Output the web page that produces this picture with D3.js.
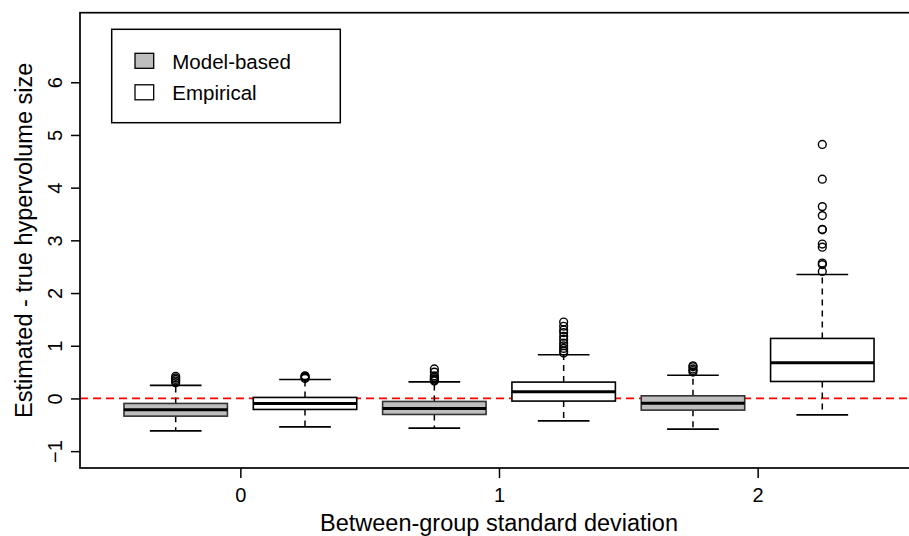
<!DOCTYPE html>
<html>
<head>
<meta charset="utf-8">
<script src="https://cdn.jsdelivr.net/npm/d3@7"></script>
<style>
  body { margin: 0; background: #fff; }
  svg { font-family: "Liberation Sans", Arial, sans-serif; }
</style>
</head>
<body>
<svg id="chart" width="909" height="536"></svg>
<script>
// groups on the x axis and the two methods
var groups = ["0", "1", "2"];
var methods = ["Model-based", "Empirical"];
var fills = ["#bebebe", "#ffffff"];

// box stats, order: 0 model, 0 emp, 1 model, 1 emp, 2 model, 2 emp
var whiskLo = [-0.615, -0.54, -0.564, -0.425, -0.583, -0.311];
var q1      = [-0.336, -0.209, -0.304, -0.05, -0.222, 0.322];
var median  = [-0.216, -0.095, -0.19, 0.125, -0.089, 0.676];
var q3      = [-0.095, 0.019, -0.057, 0.31, 0.05, 1.139];
var whiskHi = [0.247, 0.36, 0.315, 0.83, 0.44, 2.353];
var outliers = [
  [0.30, 0.33, 0.36, 0.39, 0.42],
  [0.38, 0.40, 0.42, 0.43],
  [0.33, 0.35, 0.37, 0.40, 0.43, 0.50, 0.56],
  [0.86, 0.90, 0.95, 1.00, 1.05, 1.12, 1.18, 1.25, 1.30, 1.37, 1.45],
  [0.50, 0.53, 0.56, 0.60, 0.62],
  [2.41, 2.54, 2.57, 2.87, 2.93, 3.20, 3.21, 3.47, 3.64, 4.16, 4.82]
];
var yTicks = [-1, 0, 1, 2, 3, 4, 5, 6];

var svg = d3.select("#chart");
var pLeft = 80, pRight = 918, pTop = 12.7, pBottom = 468;

var x = d3.scaleLinear().domain([0.26, 6.74]).range([pLeft, pRight]);
var y = d3.scaleLinear().domain([-1.32, 7.32]).range([pBottom, pTop]);
var boxW = x(0.8) - x(0);

var boxes = median.map(function(m, i) {
  return { pos: i + 1, fill: fills[i % 2], lo: whiskLo[i], q1: q1[i], med: m,
           q3: q3[i], hi: whiskHi[i], out: outliers[i] };
});

// red reference line at zero
svg.append("line")
  .attr("x1", pLeft).attr("x2", pRight)
  .attr("y1", y(0)).attr("y2", y(0))
  .attr("stroke", "#ff0000").attr("stroke-width", 1.8)
  .attr("stroke-dasharray", "8,5");

var g = svg.selectAll(".box").data(boxes).enter().append("g").attr("class", "box");

// whiskers
g.append("line")
  .attr("x1", d => x(d.pos)).attr("x2", d => x(d.pos))
  .attr("y1", d => y(d.q3)).attr("y2", d => y(d.hi))
  .attr("stroke", "#000").attr("stroke-width", 1.5).attr("stroke-dasharray", "6,5");
g.append("line")
  .attr("x1", d => x(d.pos)).attr("x2", d => x(d.pos))
  .attr("y1", d => y(d.q1)).attr("y2", d => y(d.lo))
  .attr("stroke", "#000").attr("stroke-width", 1.5).attr("stroke-dasharray", "6,5");
// staples
["hi", "lo"].forEach(function(k) {
  g.append("line")
    .attr("x1", d => x(d.pos) - boxW / 4).attr("x2", d => x(d.pos) + boxW / 4)
    .attr("y1", d => y(d[k])).attr("y2", d => y(d[k]))
    .attr("stroke", "#000").attr("stroke-width", 1.6);
});

// box
g.append("rect")
  .attr("x", d => x(d.pos) - boxW / 2)
  .attr("width", boxW)
  .attr("y", d => y(d.q3))
  .attr("height", d => y(d.q1) - y(d.q3))
  .attr("fill", d => d.fill)
  .attr("stroke", d => d.fill === "#ffffff" ? "#000" : "#333")
  .attr("stroke-width", 1.6);

// median
g.append("line")
  .attr("x1", d => x(d.pos) - boxW / 2).attr("x2", d => x(d.pos) + boxW / 2)
  .attr("y1", d => y(d.med)).attr("y2", d => y(d.med))
  .attr("stroke", "#000").attr("stroke-width", 3);

// outliers
g.selectAll("circle").data(d => d.out.map(v => ({ pos: d.pos, v: v })))
  .enter().append("circle")
  .attr("cx", d => x(d.pos)).attr("cy", d => y(d.v))
  .attr("r", 3.9).attr("fill", "none")
  .attr("stroke", "#000").attr("stroke-width", 1.4);

// frame
svg.append("rect")
  .attr("x", pLeft).attr("y", pTop)
  .attr("width", pRight - pLeft).attr("height", pBottom - pTop)
  .attr("fill", "none").attr("stroke", "#000").attr("stroke-width", 1.7);

// y axis
var ya = svg.append("g").attr("transform", `translate(${pLeft},0)`)
  .call(d3.axisLeft(y).tickValues(yTicks).tickSize(9).tickFormat(d3.format("d")));
ya.select(".domain").remove();
ya.selectAll(".tick line").attr("stroke-width", 1.5);
ya.selectAll(".tick text")
  .attr("x", null).attr("dy", null)
  .attr("transform", "translate(-18.5,0) rotate(-90)")
  .attr("text-anchor", "middle")
  .attr("font-size", 20).attr("font-family", "Liberation Sans").attr("fill", "#000");

// x axis
var xa = svg.append("g").attr("transform", `translate(0,${pBottom})`)
  .call(d3.axisBottom(x).tickValues([1.5, 3.5, 5.5]).tickSize(10)
    .tickFormat((d, i) => groups[i]));
xa.select(".domain").remove();
xa.selectAll(".tick line").attr("stroke-width", 1.5);
xa.selectAll(".tick text")
  .attr("y", 33.5).attr("dy", null)
  .attr("font-size", 20).attr("font-family", "Liberation Sans").attr("fill", "#000");

// axis titles
svg.append("text")
  .attr("x", (pLeft + pRight) / 2).attr("y", 531)
  .attr("text-anchor", "middle").attr("font-size", 23.5)
  .text("Between-group standard deviation");
svg.append("text")
  .attr("transform", `translate(32,${(pTop + pBottom) / 2}) rotate(-90)`)
  .attr("text-anchor", "middle").attr("font-size", 23.5)
  .text("Estimated - true hypervolume size");

// legend
var lg = svg.append("g");
lg.append("rect")
  .attr("x", 111.7).attr("y", 29.3).attr("width", 228.6).attr("height", 93.4)
  .attr("fill", "#fff").attr("stroke", "#000").attr("stroke-width", 1.5);
methods.forEach(function(m, i) {
  var cy = 60.8 + i * 31.5;
  lg.append("rect")
    .attr("x", 135).attr("y", cy - 7.5).attr("width", 18.7).attr("height", 15)
    .attr("fill", fills[i]).attr("stroke", "#000").attr("stroke-width", 1.3);
  lg.append("text")
    .attr("x", 172.3).attr("y", cy + 7.8)
    .attr("font-size", 20.5).text(m);
});
</script>
</body>
</html>
